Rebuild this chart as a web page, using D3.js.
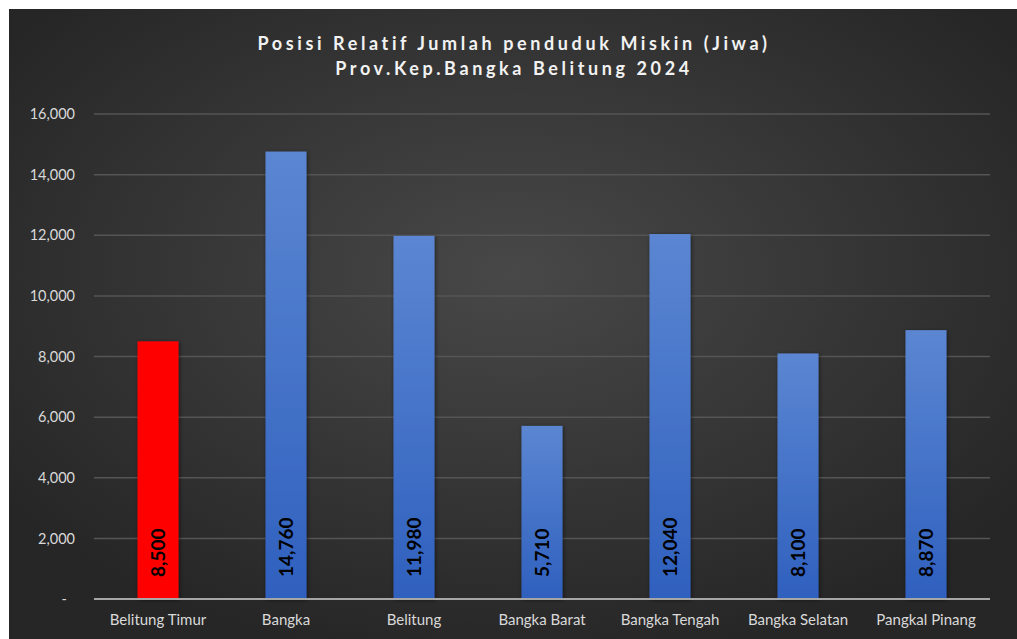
<!DOCTYPE html>
<html><head><meta charset="utf-8">
<script src="https://cdn.jsdelivr.net/npm/d3@7"></script>
<style>body{margin:0;background:#fff}svg{display:block}</style>
</head><body>
<svg id="c" width="1017" height="639"></svg>
<script>
const categories = ["Belitung Timur","Bangka","Belitung","Bangka Barat","Bangka Tengah","Bangka Selatan","Pangkal Pinang"];
const values = [8500,14760,11980,5710,12040,8100,8870];
const highlight = ["Belitung Timur"];
const yTicks = [0,2000,4000,6000,8000,10000,12000,14000,16000];
const titleLines = ["Posisi Relatif Jumlah penduduk Miskin (Jiwa)","Prov.Kep.Bangka Belitung 2024"];

const svg = d3.select("#c");
const W = 1017, H = 639;
const defs = svg.append("defs");
const rg = defs.append("radialGradient").attr("id","bg").attr("cx","50%").attr("cy","42%").attr("r","62%");
rg.append("stop").attr("offset","0%").attr("stop-color","#484848");
rg.append("stop").attr("offset","100%").attr("stop-color","#262626");
const bg = defs.append("linearGradient").attr("id","blue").attr("x1",0).attr("y1",0).attr("x2",0).attr("y2",1);
bg.append("stop").attr("offset","0%").attr("stop-color","#5b86d2");
bg.append("stop").attr("offset","100%").attr("stop-color","#2f60be");
const sh = defs.append("filter").attr("id","sh").attr("x","-30%").attr("y","-10%").attr("width","160%").attr("height","120%");
sh.append("feDropShadow").attr("dx",1).attr("dy",1).attr("stdDeviation",2).attr("flood-color","#000").attr("flood-opacity",0.5);

svg.append("rect").attr("x",9).attr("y",9).attr("width",W-9).attr("height",H-9).attr("fill","url(#bg)");

const font = "Lato, 'Open Sans', sans-serif";
const x = d3.scaleBand().domain(categories).range([94,990]).paddingInner(0.68).paddingOuter(0.34);
const y = d3.scaleLinear().domain([0,16000]).range([599,114]);

// gridlines
svg.append("g").selectAll("line").data(yTicks.filter(t=>t>0)).join("line")
  .attr("x1",94).attr("x2",990).attr("y1",d=>y(d)).attr("y2",d=>y(d))
  .attr("stroke","#555").attr("stroke-width",1.5);

// y axis
const yAxis = d3.axisLeft(y).tickValues(yTicks).tickSize(0).tickPadding(0)
  .tickFormat(d=> d===0 ? "-" : d3.format(",")(d));
const ya = svg.append("g").attr("transform","translate(75,0)").call(yAxis);
ya.select(".domain").remove();
ya.selectAll("text").attr("fill","#d9d9d9").style("font-family",font).style("font-size","14.5px").attr("dx",d=>d===0?-8:0);

// bars
svg.append("g").selectAll("rect").data(categories).join("rect")
  .attr("x",d=>x(d)).attr("width",x.bandwidth())
  .attr("y",(d,i)=>y(values[i])).attr("height",(d,i)=>y(0)-y(values[i]))
  .attr("fill",d=>highlight.includes(d)?"#ff0000":"url(#blue)")
  .attr("filter","url(#sh)");

// baseline
svg.append("line").attr("x1",94).attr("x2",990).attr("y1",y(0)).attr("y2",y(0))
  .attr("stroke","#a6a6a6").attr("stroke-width",2);

// x axis
const xAxis = d3.axisBottom(x).tickSize(0).tickPadding(0);
const xa = svg.append("g").attr("transform",`translate(0,${y(0)})`).call(xAxis);
xa.select(".domain").remove();
xa.selectAll("text").attr("fill","#d9d9d9").attr("dy","0").attr("y",26).style("font-family",font).style("font-size","15px");

// data labels
svg.append("g").selectAll("text").data(categories).join("text")
  .attr("transform",(d)=>`translate(${x(d)+x.bandwidth()/2+7},${y(0)-22}) rotate(-90)`)
  .attr("text-anchor","start")
  .style("font-family",font).style("font-size","19px").style("font-weight","bold")
  .attr("fill","#000")
  .text((d,i)=>d3.format(",")(values[i]));

// title
svg.append("g").selectAll("text").data(titleLines).join("text")
  .attr("x",514).attr("y",(d,i)=>50+i*25)
  .attr("text-anchor","middle").attr("fill","#f2f2f2")
  .style("font-family",font).style("font-size","18px").style("font-weight","bold")
  .style("letter-spacing","3.6px")
  .text(d=>d);
</script>
</body></html>
